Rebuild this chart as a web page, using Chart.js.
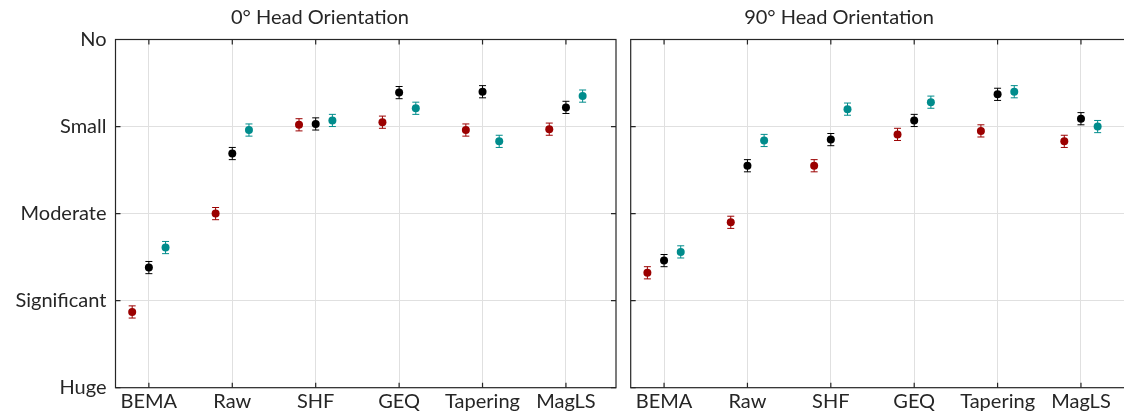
<!DOCTYPE html>
<html>
<head>
<meta charset="utf-8">
<script src="https://cdn.jsdelivr.net/npm/chart.js@4/dist/chart.umd.min.js"></script>
<style>
  html, body { margin: 0; padding: 0; background: #fff; }
  #fig { position: relative; width: 1124px; height: 418px; overflow: hidden; }
  .panel { position: absolute; top: 0; height: 418px; }
  .panel-title { position: absolute; top: 4px; font: 20px Lato, sans-serif; color: #262626; white-space: nowrap; transform: translateX(-50%); }
</style>
</head>
<body>
<div id="fig">
  <div class="panel" id="p0" style="left:0;width:620px"><canvas id="c0"></canvas></div>
  <div class="panel" id="p1" style="left:620px;width:530px"><canvas id="c1"></canvas></div>
  <div class="panel-title" id="t0" style="left:320px"></div>
  <div class="panel-title" id="t1" style="left:839px"></div>
</div>
<script>
/* categories / levels */
var CATEGORIES = ['BEMA', 'Raw', 'SHF', 'GEQ', 'Tapering', 'MagLS'];
var LEVELS = ['Huge', 'Significant', 'Moderate', 'Small', 'No'];
var TITLES = ['0° Head Orientation', '90° Head Orientation'];

/* 0° head orientation: means and error half-widths */
var RED_0   = [0.87, 2.00, 3.02, 3.05, 2.96, 2.97];
var BLACK_0 = [1.38, 2.69, 3.03, 3.39, 3.40, 3.22];
var TEAL_0  = [1.61, 2.96, 3.07, 3.21, 2.83, 3.35];
var RED_ERR_0   = [0.07, 0.07, 0.07, 0.07, 0.07, 0.07];
var BLACK_ERR_0 = [0.07, 0.07, 0.07, 0.07, 0.07, 0.07];
var TEAL_ERR_0  = [0.07, 0.07, 0.07, 0.07, 0.07, 0.07];

/* 90° head orientation */
var RED_90   = [1.32, 1.90, 2.55, 2.91, 2.95, 2.83];
var BLACK_90 = [1.46, 2.55, 2.85, 3.07, 3.37, 3.09];
var TEAL_90  = [1.56, 2.84, 3.20, 3.28, 3.40, 3.00];
var RED_ERR_90   = [0.07, 0.07, 0.07, 0.07, 0.07, 0.07];
var BLACK_ERR_90 = [0.07, 0.07, 0.07, 0.07, 0.07, 0.07];
var TEAL_ERR_90  = [0.07, 0.07, 0.07, 0.07, 0.07, 0.07];

(function () {
  'use strict';

  var RED = '#9b0000', BLACK = '#000000', TEAL = '#008c8c';
  var AXIS = '#262626', GRID = '#e0e0e0';
  var FONT = { family: 'Lato, sans-serif', size: 20 };

  function series(vals, errs, offset, color) {
    return {
      data: vals.map(function (v, i) { return { x: i + 1 + offset, y: v, err: errs[i] }; }),
      backgroundColor: color, borderColor: color,
      pointRadius: 4, pointHoverRadius: 4, pointBorderWidth: 0,
    };
  }

  /* error bars with caps, drawn under the markers */
  var errorBars = {
    id: 'errorBars',
    beforeDatasetsDraw: function (chart) {
      var ctx = chart.ctx, xs = chart.scales.x, ys = chart.scales.y;
      ctx.save();
      ctx.lineWidth = 1;
      chart.data.datasets.forEach(function (ds) {
        ctx.strokeStyle = ds.borderColor;
        ds.data.forEach(function (p) {
          var px = xs.getPixelForValue(p.x);
          var top = ys.getPixelForValue(p.y + p.err), bot = ys.getPixelForValue(p.y - p.err);
          ctx.beginPath();
          ctx.moveTo(px, top); ctx.lineTo(px, bot);
          ctx.moveTo(px - 3.5, top); ctx.lineTo(px + 3.5, top);
          ctx.moveTo(px - 3.5, bot); ctx.lineTo(px + 3.5, bot);
          ctx.stroke();
        });
      });
      ctx.restore();
    },
  };

  /* box on all four sides with inward ticks */
  var boxTicks = {
    id: 'boxTicks',
    afterDraw: function (chart) {
      var ctx = chart.ctx, a = chart.chartArea, xs = chart.scales.x, ys = chart.scales.y;
      var L = 5;
      ctx.save();
      ctx.strokeStyle = AXIS; ctx.lineWidth = 1.2;
      ctx.strokeRect(a.left, a.top, a.right - a.left, a.bottom - a.top);
      ctx.beginPath();
      xs.ticks.forEach(function (t) {
        var px = xs.getPixelForValue(t.value);
        ctx.moveTo(px, a.bottom); ctx.lineTo(px, a.bottom - L);
        ctx.moveTo(px, a.top); ctx.lineTo(px, a.top + L);
      });
      ys.ticks.forEach(function (t) {
        var py = ys.getPixelForValue(t.value);
        ctx.moveTo(a.left, py); ctx.lineTo(a.left + L, py);
        ctx.moveTo(a.right, py); ctx.lineTo(a.right - L, py);
      });
      ctx.stroke();
      ctx.restore();
    },
  };

  function makeChart(id, sets, yWidth, padRight, showYLabels) {
    return new Chart(document.getElementById(id), {
      type: 'scatter',
      data: { datasets: sets },
      options: {
        responsive: true, maintainAspectRatio: false, animation: false,
        layout: { padding: { top: 39.5, right: padRight, left: 0, bottom: 0 } },
        plugins: { legend: { display: false }, tooltip: { enabled: false } },
        scales: {
          x: {
            type: 'linear', min: 0.6, max: 6.6,
            afterBuildTicks: function (s) { s.ticks = CATEGORIES.map(function (c, i) { return { value: i + 1 }; }); },
            afterFit: function (s) { s.height = 30.3; },
            ticks: {
              autoSkip: false, maxRotation: 0, padding: 2, color: AXIS, font: FONT,
              callback: function (v) { return CATEGORIES[v - 1]; },
            },
            grid: { color: GRID, drawTicks: false },
            border: { display: false },
          },
          y: {
            type: 'linear', min: 0, max: 4,
            afterBuildTicks: function (s) { s.ticks = LEVELS.map(function (l, i) { return { value: i }; }); },
            afterFit: function (s) { s.width = yWidth; },
            ticks: {
              display: showYLabels, padding: 9, color: AXIS, font: FONT,
              callback: function (v) { return LEVELS[v]; },
            },
            grid: { color: GRID, drawTicks: false },
            border: { display: false },
          },
        },
      },
      plugins: [errorBars, boxTicks],
    });
  }

  document.getElementById('t0').textContent = TITLES[0];
  document.getElementById('t1').textContent = TITLES[1];

  makeChart('c0', [
    series(RED_0, RED_ERR_0, -0.2, RED),
    series(BLACK_0, BLACK_ERR_0, 0, BLACK),
    series(TEAL_0, TEAL_ERR_0, 0.2, TEAL),
  ], 115.5, 4, true);

  makeChart('c1', [
    series(RED_90, RED_ERR_90, -0.2, RED),
    series(BLACK_90, BLACK_ERR_90, 0, BLACK),
    series(TEAL_90, TEAL_ERR_90, 0.2, TEAL),
  ], 10.7, 19, false);
})();
</script>
</body>
</html>
